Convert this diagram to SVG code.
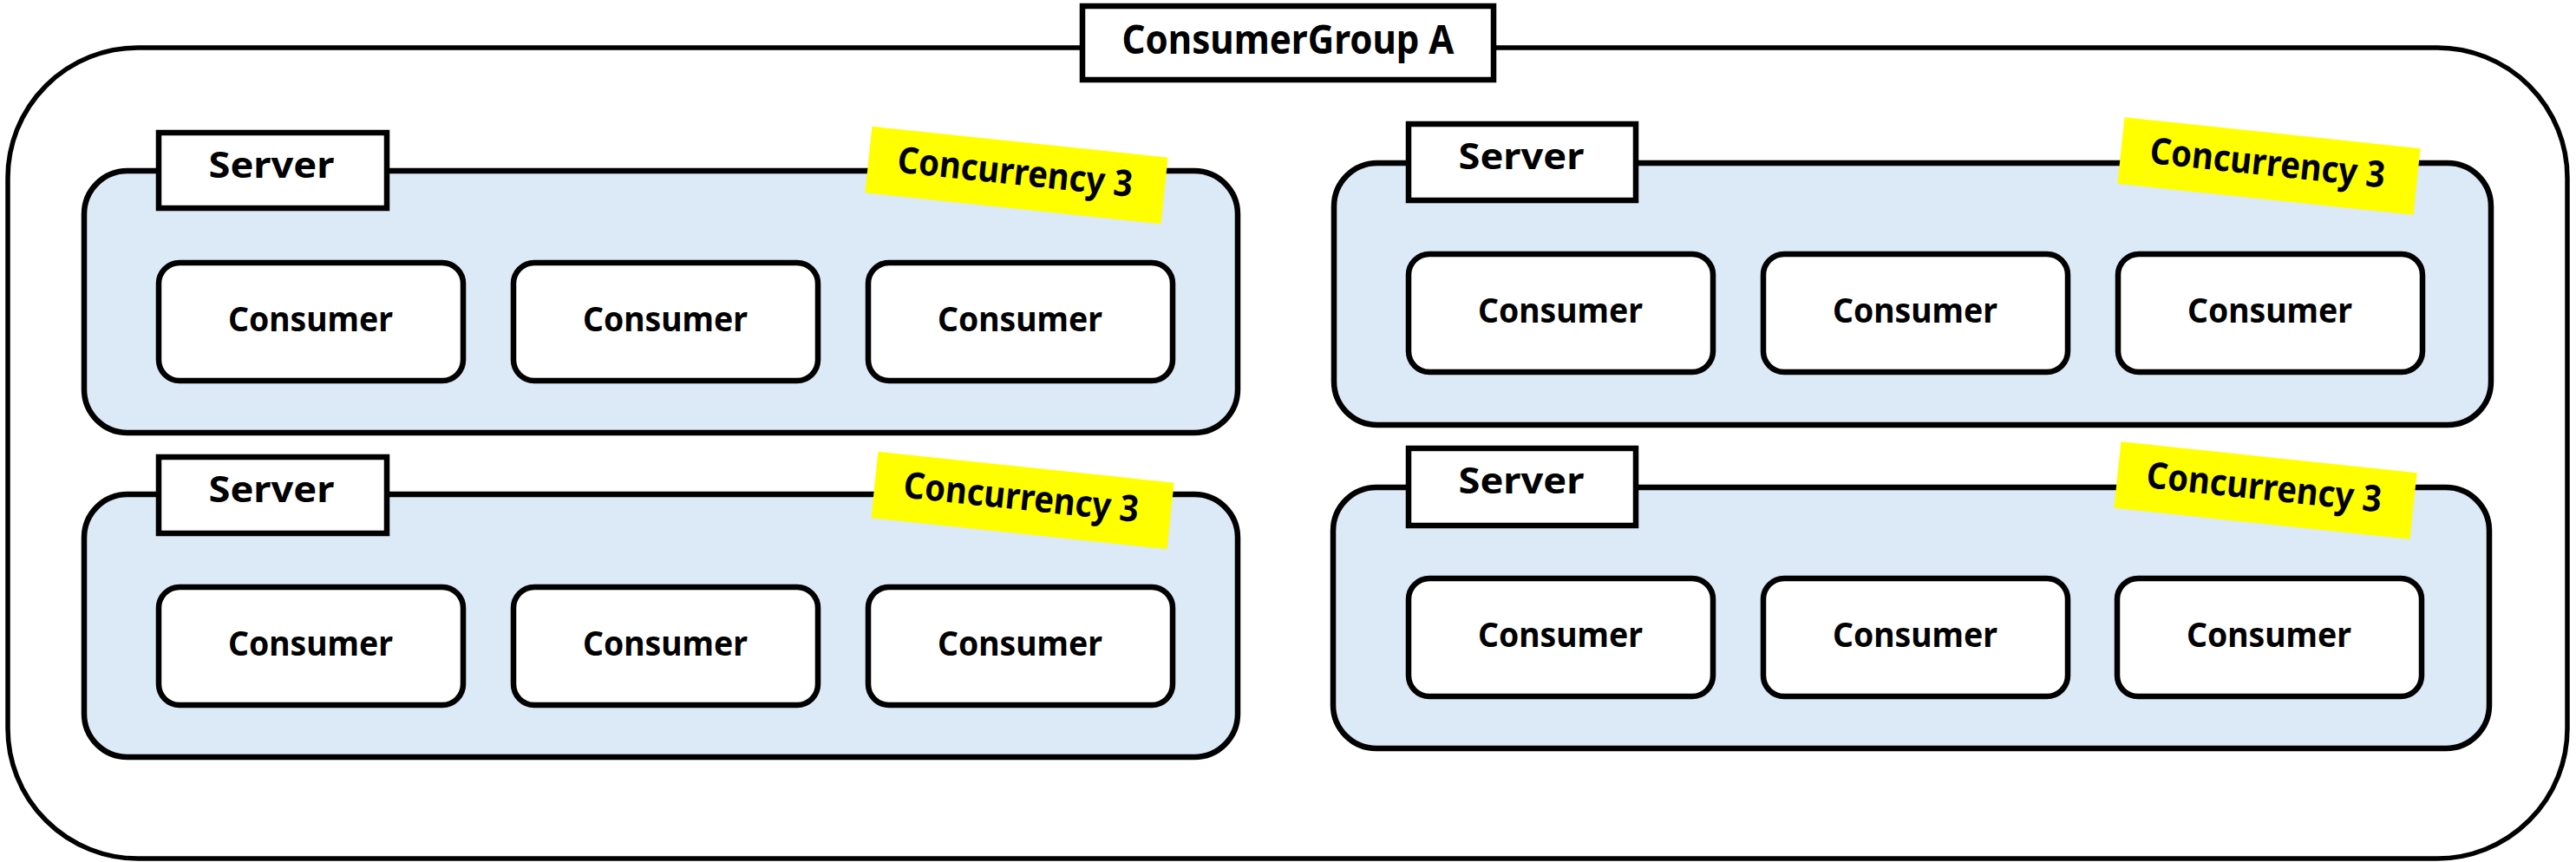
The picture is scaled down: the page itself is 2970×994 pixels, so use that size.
<svg xmlns="http://www.w3.org/2000/svg" width="2970" height="994" viewBox="0 0 2970 994">
<style>
.outer{fill:#ffffff;stroke:#000;stroke-width:5.5}
.server{fill:#dce9f6;stroke:#000;stroke-width:6.5}
.lbl{fill:#ffffff;stroke:#000;stroke-width:6.5}
.cons{fill:#ffffff;stroke:#000;stroke-width:6.5}
.conc{fill:#ffff00;stroke:none}
text{font-family:"Noto Sans","DejaVu Sans",sans-serif;font-weight:bold;fill:#000;text-anchor:middle}
.t46{font-size:46px}
.t42{font-size:42px}
.t40{font-size:40px}
</style>
<rect width="2970" height="994" fill="#ffffff"/>
<g id="consumer-group-a">
  <rect class="outer" x="9" y="55" width="2951" height="935" rx="150" ry="150"/>
  <rect class="lbl" x="1248" y="7" width="474" height="85"/>
  <text class="t46" x="1485" y="62" textLength="383" lengthAdjust="spacingAndGlyphs">ConsumerGroup A</text>
</g>

<g id="server-tl">
  <rect class="server" x="97" y="197" width="1330" height="302" rx="50" ry="50"/>
  <rect class="lbl" x="183" y="153" width="263" height="87"/>
  <text class="t42" x="313" y="205" textLength="145" lengthAdjust="spacingAndGlyphs">Server</text>
  <g transform="translate(1172 202) rotate(6)">
    <rect class="conc" x="-171.5" y="-38.5" width="343" height="77"/>
    <text class="t42" x="-2" y="11" textLength="272" lengthAdjust="spacingAndGlyphs">Concurrency 3</text>
  </g>
</g>
<g id="consumer-tl-1"><rect class="cons" x="183" y="303" width="351" height="136" rx="24"/><text class="t40" x="358" y="382" textLength="190" lengthAdjust="spacingAndGlyphs">Consumer</text></g>
<g id="consumer-tl-2"><rect class="cons" x="592" y="303" width="351" height="136" rx="24"/><text class="t40" x="767" y="382" textLength="190" lengthAdjust="spacingAndGlyphs">Consumer</text></g>
<g id="consumer-tl-3"><rect class="cons" x="1001" y="303" width="351" height="136" rx="24"/><text class="t40" x="1176" y="382" textLength="190" lengthAdjust="spacingAndGlyphs">Consumer</text></g>

<g id="server-tr">
  <rect class="server" x="1538" y="188" width="1334" height="302" rx="50" ry="50"/>
  <rect class="lbl" x="1624" y="143" width="262" height="88"/>
  <text class="t42" x="1754" y="195" textLength="145" lengthAdjust="spacingAndGlyphs">Server</text>
  <g transform="translate(2616 191.5) rotate(6)">
    <rect class="conc" x="-171.5" y="-38.5" width="343" height="77"/>
    <text class="t42" x="-2" y="11" textLength="272" lengthAdjust="spacingAndGlyphs">Concurrency 3</text>
  </g>
</g>
<g id="consumer-tr-1"><rect class="cons" x="1624" y="293" width="351" height="136" rx="24"/><text class="t40" x="1799" y="372" textLength="190" lengthAdjust="spacingAndGlyphs">Consumer</text></g>
<g id="consumer-tr-2"><rect class="cons" x="2033" y="293" width="351" height="136" rx="24"/><text class="t40" x="2208" y="372" textLength="190" lengthAdjust="spacingAndGlyphs">Consumer</text></g>
<g id="consumer-tr-3"><rect class="cons" x="2442" y="293" width="351" height="136" rx="24"/><text class="t40" x="2617" y="372" textLength="190" lengthAdjust="spacingAndGlyphs">Consumer</text></g>

<g id="server-bl">
  <rect class="server" x="97" y="570" width="1330" height="303" rx="50" ry="50"/>
  <rect class="lbl" x="183" y="527" width="263" height="88"/>
  <text class="t42" x="313" y="579" textLength="145" lengthAdjust="spacingAndGlyphs">Server</text>
  <g transform="translate(1179 577) rotate(6)">
    <rect class="conc" x="-171.5" y="-38.5" width="343" height="77"/>
    <text class="t42" x="-2" y="11" textLength="272" lengthAdjust="spacingAndGlyphs">Concurrency 3</text>
  </g>
</g>
<g id="consumer-bl-1"><rect class="cons" x="183" y="677" width="351" height="136" rx="24"/><text class="t40" x="358" y="756" textLength="190" lengthAdjust="spacingAndGlyphs">Consumer</text></g>
<g id="consumer-bl-2"><rect class="cons" x="592" y="677" width="351" height="136" rx="24"/><text class="t40" x="767" y="756" textLength="190" lengthAdjust="spacingAndGlyphs">Consumer</text></g>
<g id="consumer-bl-3"><rect class="cons" x="1001" y="677" width="351" height="136" rx="24"/><text class="t40" x="1176" y="756" textLength="190" lengthAdjust="spacingAndGlyphs">Consumer</text></g>

<g id="server-br">
  <rect class="server" x="1537" y="562" width="1333" height="301" rx="50" ry="50"/>
  <rect class="lbl" x="1624" y="517" width="262" height="89"/>
  <text class="t42" x="1754" y="569" textLength="145" lengthAdjust="spacingAndGlyphs">Server</text>
  <g transform="translate(2612 565.5) rotate(6)">
    <rect class="conc" x="-171.5" y="-38.5" width="343" height="77"/>
    <text class="t42" x="-2" y="11" textLength="272" lengthAdjust="spacingAndGlyphs">Concurrency 3</text>
  </g>
</g>
<g id="consumer-br-1"><rect class="cons" x="1624" y="667" width="351" height="136" rx="24"/><text class="t40" x="1799" y="746" textLength="190" lengthAdjust="spacingAndGlyphs">Consumer</text></g>
<g id="consumer-br-2"><rect class="cons" x="2033" y="667" width="351" height="136" rx="24"/><text class="t40" x="2208" y="746" textLength="190" lengthAdjust="spacingAndGlyphs">Consumer</text></g>
<g id="consumer-br-3"><rect class="cons" x="2441" y="667" width="351" height="136" rx="24"/><text class="t40" x="2616" y="746" textLength="190" lengthAdjust="spacingAndGlyphs">Consumer</text></g>

<g id="connectors"></g>
</svg>
